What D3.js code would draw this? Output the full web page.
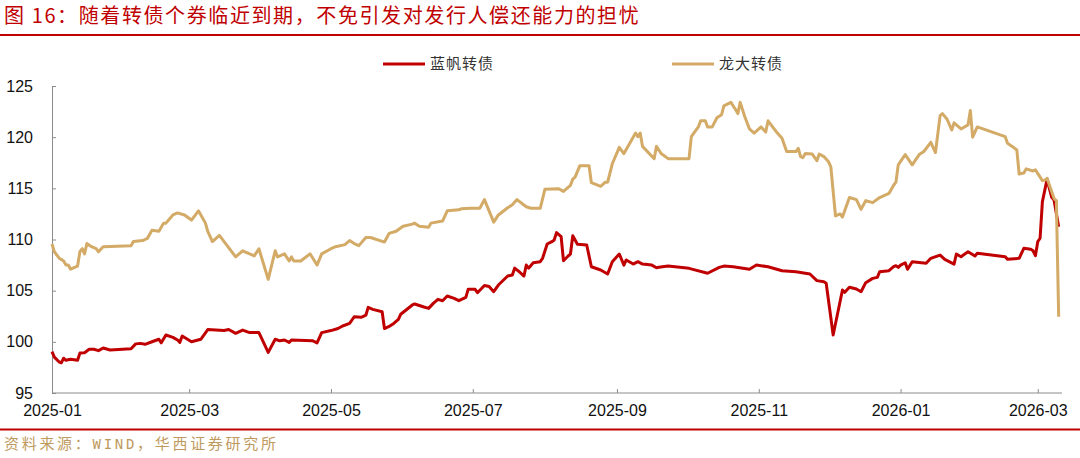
<!DOCTYPE html>
<html><head><meta charset="utf-8">
<script src="https://cdn.jsdelivr.net/npm/d3@7"></script>
<style>html,body{margin:0;padding:0;background:#fff;}svg{display:block;}</style>
</head><body>
<script>
// ---- Data ----
const seriesNames = ["蓝帆转债", "龙大转债"];
const lanfanDates = ["2025-01-01","2025-01-02","2025-01-04","2025-01-05","2025-01-06","2025-01-07","2025-01-09","2025-01-12","2025-01-13","2025-01-15","2025-01-17","2025-01-19","2025-01-21","2025-01-23","2025-01-26","2025-02-04","2025-02-06","2025-02-08","2025-02-10","2025-02-13","2025-02-16","2025-02-17","2025-02-19","2025-02-22","2025-02-24","2025-02-25","2025-02-26","2025-03-02","2025-03-06","2025-03-09","2025-03-16","2025-03-18","2025-03-21","2025-03-24","2025-03-27","2025-03-31","2025-04-04","2025-04-07","2025-04-09","2025-04-11","2025-04-13","2025-04-14","2025-04-23","2025-04-25","2025-04-27","2025-05-01","2025-05-04","2025-05-06","2025-05-09","2025-05-11","2025-05-14","2025-05-16","2025-05-17","2025-05-19","2025-05-23","2025-05-24","2025-05-26","2025-05-28","2025-05-30","2025-05-31","2025-06-05","2025-06-06","2025-06-10","2025-06-12","2025-06-14","2025-06-16","2025-06-18","2025-06-20","2025-06-23","2025-06-25","2025-06-28","2025-06-29","2025-07-02","2025-07-03","2025-07-06","2025-07-08","2025-07-10","2025-07-12","2025-07-16","2025-07-18","2025-07-19","2025-07-21","2025-07-23","2025-07-24","2025-07-25","2025-07-27","2025-07-30","2025-07-31","2025-08-02","2025-08-04","2025-08-05","2025-08-06","2025-08-08","2025-08-09","2025-08-11","2025-08-12","2025-08-13","2025-08-15","2025-08-19","2025-08-21","2025-08-25","2025-08-28","2025-08-30","2025-09-02","2025-09-04","2025-09-05","2025-09-08","2025-09-10","2025-09-12","2025-09-16","2025-09-18","2025-09-19","2025-09-23","2025-10-02","2025-10-10","2025-10-15","2025-10-17","2025-10-21","2025-10-28","2025-10-31","2025-11-05","2025-11-11","2025-11-17","2025-11-23","2025-11-26","2025-11-29","2025-11-30","2025-12-03","2025-12-07","2025-12-08","2025-12-10","2025-12-13","2025-12-15","2025-12-17","2025-12-20","2025-12-22","2025-12-23","2025-12-27","2025-12-29","2025-12-30","2025-12-31","2026-01-01","2026-01-03","2026-01-04","2026-01-06","2026-01-12","2026-01-14","2026-01-18","2026-01-20","2026-01-24","2026-01-25","2026-01-27","2026-01-30","2026-02-02","2026-02-03","2026-02-15","2026-02-16","2026-02-21","2026-02-23","2026-02-26","2026-02-27","2026-02-28","2026-03-01","2026-03-02","2026-03-03","2026-03-05","2026-03-07","2026-03-08","2026-03-10"];
const lanfanValues = [99.04,98.5,98.05,97.95,98.4,98.2,98.3,98.2,98.9,98.94,99.27,99.27,99.14,99.4,99.2,99.33,99.8,99.85,99.76,100.01,100.25,99.9,100.67,100.44,100.18,99.95,100.57,100.01,100.25,101.2,101.1,101.2,100.83,101.15,100.9,100.9,98.97,100.25,100.1,100.18,99.95,100.18,100.11,99.9,100.9,101.1,101.3,101.55,101.8,102.45,102.4,102.6,103.37,103.17,102.94,101.3,101.5,101.8,102.2,102.7,103.6,103.7,103.4,103.27,103.76,104.15,104.02,104.48,104.25,104.02,104.35,105.13,105.13,104.8,105.5,105.4,104.9,105.55,106.43,106.53,107.2,106.85,106.43,107.5,107.2,107.73,107.83,108.16,109.56,109.79,109.95,110.67,110.27,107.93,108.39,108.58,110.37,109.53,109.46,107.34,107.02,106.63,107.83,108.58,107.5,108.0,107.6,107.83,107.6,107.5,107.24,107.28,107.41,107.18,106.7,107.28,107.4,107.34,107.09,107.5,107.34,106.95,106.85,106.63,105.98,105.88,105.73,100.67,105.06,104.84,105.33,105.16,104.9,105.78,106.2,106.3,106.85,106.95,107.34,107.44,107.28,107.5,107.73,107.09,107.83,107.67,108.16,108.48,108.06,107.6,108.58,108.32,108.81,108.39,108.65,108.32,108.06,108.16,109.14,109.04,108.9,108.42,109.79,110.12,113.7,115.88,114.12,113.86,111.25];
const longdaDates = ["2025-01-01","2025-01-02","2025-01-04","2025-01-06","2025-01-07","2025-01-08","2025-01-09","2025-01-11","2025-01-12","2025-01-13","2025-01-14","2025-01-15","2025-01-16","2025-01-18","2025-01-20","2025-01-21","2025-01-23","2025-02-04","2025-02-05","2025-02-09","2025-02-11","2025-02-13","2025-02-16","2025-02-18","2025-02-19","2025-02-22","2025-02-24","2025-02-27","2025-03-02","2025-03-05","2025-03-08","2025-03-09","2025-03-11","2025-03-14","2025-03-17","2025-03-21","2025-03-24","2025-03-29","2025-03-31","2025-04-04","2025-04-07","2025-04-08","2025-04-11","2025-04-13","2025-04-14","2025-04-15","2025-04-18","2025-04-22","2025-04-25","2025-04-27","2025-05-01","2025-05-03","2025-05-07","2025-05-09","2025-05-11","2025-05-13","2025-05-16","2025-05-18","2025-05-24","2025-05-26","2025-05-29","2025-06-01","2025-06-05","2025-06-06","2025-06-08","2025-06-12","2025-06-13","2025-06-18","2025-06-20","2025-06-25","2025-06-26","2025-06-30","2025-07-04","2025-07-06","2025-07-10","2025-07-12","2025-07-16","2025-07-18","2025-07-20","2025-07-24","2025-07-26","2025-07-30","2025-08-01","2025-08-07","2025-08-09","2025-08-12","2025-08-13","2025-08-14","2025-08-16","2025-08-20","2025-08-21","2025-08-25","2025-08-27","2025-08-28","2025-08-30","2025-09-02","2025-09-04","2025-09-07","2025-09-09","2025-09-10","2025-09-11","2025-09-12","2025-09-17","2025-09-18","2025-09-20","2025-09-23","2025-10-02","2025-10-03","2025-10-06","2025-10-07","2025-10-09","2025-10-10","2025-10-12","2025-10-14","2025-10-16","2025-10-17","2025-10-20","2025-10-22","2025-10-23","2025-10-24","2025-10-26","2025-10-28","2025-10-30","2025-11-02","2025-11-04","2025-11-05","2025-11-09","2025-11-11","2025-11-13","2025-11-17","2025-11-18","2025-11-19","2025-11-20","2025-11-21","2025-11-24","2025-11-26","2025-11-27","2025-11-29","2025-12-01","2025-12-02","2025-12-04","2025-12-06","2025-12-07","2025-12-10","2025-12-13","2025-12-15","2025-12-17","2025-12-20","2025-12-23","2025-12-27","2025-12-29","2025-12-30","2025-12-31","2026-01-03","2026-01-06","2026-01-09","2026-01-11","2026-01-14","2026-01-16","2026-01-18","2026-01-19","2026-01-21","2026-01-23","2026-01-24","2026-01-27","2026-01-30","2026-01-31","2026-02-01","2026-02-03","2026-02-15","2026-02-16","2026-02-18","2026-02-20","2026-02-21","2026-02-23","2026-02-24","2026-02-27","2026-02-28","2026-03-03","2026-03-04","2026-03-05","2026-03-08","2026-03-09","2026-03-10"];
const longdaValues = [109.56,108.8,108.2,107.9,107.5,107.5,107.1,107.3,107.4,108.8,109.1,108.6,109.6,109.3,109.1,108.8,109.3,109.4,109.8,109.9,110.1,110.9,110.8,111.6,111.6,112.4,112.6,112.4,111.9,112.8,111.6,110.8,109.8,110.4,109.5,108.3,108.9,108.4,109.1,106.1,108.9,108.3,108.6,107.9,108.3,107.9,107.9,108.6,107.5,108.6,109.1,109.3,109.5,109.9,109.6,109.4,110.2,110.2,109.75,110.6,110.8,111.3,111.5,111.6,111.3,111.2,111.6,111.8,112.8,112.9,113.0,113.05,113.05,113.9,111.7,112.4,113.1,113.4,113.9,113.2,113.05,113.05,114.9,114.96,114.7,115.3,115.9,116.1,117.2,117.2,115.55,115.2,115.6,115.6,117.4,119.0,118.4,119.6,120.4,120.05,120.4,119.1,117.9,119.1,118.4,117.9,117.9,120.05,121.0,121.6,121.6,121.0,121.0,121.9,122.2,123.05,123.4,122.7,122.3,123.4,122.0,120.8,120.4,121.0,120.5,121.6,120.4,119.9,118.6,118.6,118.9,118.1,118.0,118.4,118.35,117.7,118.35,118.1,117.6,117.1,112.3,112.5,112.2,114.1,113.9,112.95,113.8,113.6,114.1,114.5,115.3,115.6,117.3,118.3,117.3,118.3,118.6,119.5,118.5,122.1,122.3,121.75,120.7,121.4,120.8,121.2,122.6,120.0,121.0,120.05,119.4,119.1,118.75,116.4,116.5,116.9,116.7,116.8,115.75,115.8,115.98,114.0,113.8,102.45];
const yTickValues = [95, 100, 105, 110, 115, 120, 125];
const xDomain = ["2025-01-01", "2026-03-11"];
const titleText = "图 16：随着转债个券临近到期，不免引发对发行人偿还能力的担忧";

// ---- Chart ----
const W = 1080, H = 458;
const parse = d3.timeParse("%Y-%m-%d");
const colors = ["#c00000", "#d3aa66"];
const svg = d3.select("body").append("svg").attr("width", W).attr("height", H);

const x = d3.scaleTime().domain(xDomain.map(parse)).range([52, 1061]);
const y = d3.scaleLinear().domain([95, 125]).range([393, 86]);

// Title
svg.append("text").attr("x", 4).attr("y", 23)
  .attr("font-family", "'Noto Sans CJK SC', sans-serif").attr("font-size", 20)
  .attr("letter-spacing", "1.6px").attr("fill", "#c00000").text(titleText);
svg.append("line").attr("x1", 0).attr("x2", W).attr("y1", 35).attr("y2", 35)
  .attr("stroke", "#c00000").attr("stroke-width", 2);

// Axes
const yAxis = d3.axisLeft(y).tickValues(yTickValues).tickSizeInner(-4).tickSizeOuter(0).tickPadding(19);
const gy = svg.append("g").attr("transform", "translate(52,0)").call(yAxis);
const xAxis = d3.axisBottom(x).ticks(d3.timeMonth.every(2)).tickFormat(d3.timeFormat("%Y-%m"))
  .tickSizeInner(-4).tickSizeOuter(0).tickPadding(12);
const gx = svg.append("g").attr("transform", "translate(0,393)").call(xAxis);
gx.select(".domain").attr("d", "M52,0H1062");
[gx, gy].forEach(g => {
  g.selectAll(".domain, .tick line").attr("stroke", "#8c8c8c").attr("stroke-width", 1);
  g.selectAll("text").attr("font-family", "'Liberation Sans', Arial, sans-serif")
    .attr("font-size", 16).attr("fill", "#111");
});

// Lines
const series = [
  {name: seriesNames[0], dates: lanfanDates, values: lanfanValues, color: colors[0], w: 3},
  {name: seriesNames[1], dates: longdaDates, values: longdaValues, color: colors[1], w: 3}
];
const line = d3.line().x(d => x(d[0])).y(d => y(d[1]));
// draw tan first then red on top? reference shows red over tan near end? draw tan last
[series[0], series[1]].forEach(s => {
  const pts = s.dates.map((d, i) => [parse(d), s.values[i]]);
  svg.append("path").datum(pts).attr("d", line).attr("fill", "none")
    .attr("stroke", s.color).attr("stroke-width", s.w).attr("stroke-linejoin", "round");
});

// Legend
const legendX = [383, 672];
series.forEach((s, i) => {
  svg.append("line").attr("x1", legendX[i]).attr("x2", legendX[i] + 42).attr("y1", 64).attr("y2", 64)
    .attr("stroke", s.color).attr("stroke-width", 3);
  svg.append("text").attr("x", legendX[i] + 47).attr("y", 69)
    .attr("font-family", "'Noto Sans CJK SC', sans-serif").attr("font-size", 15)
    .attr("letter-spacing", "1px").attr("fill", "#333").text(s.name);
});

// Footer
svg.append("line").attr("x1", 0).attr("x2", W).attr("y1", 429.5).attr("y2", 429.5)
  .attr("stroke", "#c00000").attr("stroke-width", 2);
const src = svg.append("text").attr("x", 4).attr("y", 449)
  .attr("font-family", "'Noto Sans CJK SC', sans-serif").attr("font-size", 15)
  .attr("letter-spacing", "2.7px").attr("fill", "#bf9a5e");
src.append("tspan").text("资料来源：");
src.append("tspan").attr("font-family", "'DejaVu Sans Mono', monospace").attr("font-size", 14).text("WIND");
src.append("tspan").text("，华西证券研究所");
</script>
</body></html>
